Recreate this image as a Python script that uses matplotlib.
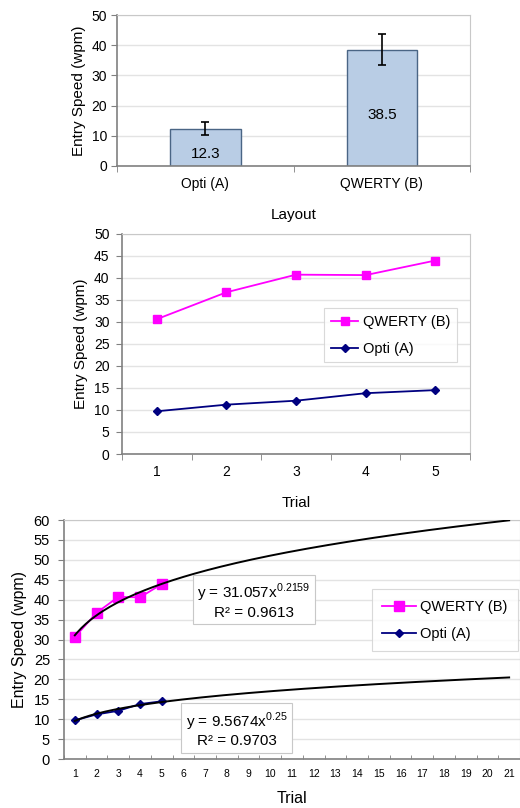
import numpy as np
import matplotlib
matplotlib.use('agg')
import matplotlib.pyplot as plt
from matplotlib.ticker import FixedLocator

plt.rcParams['font.family'] = ['Liberation Sans', 'DejaVu Sans']
plt.rcParams['mathtext.fontset'] = 'custom'
plt.rcParams['mathtext.rm'] = 'Liberation Sans'

# data
layouts = ["Opti (A)", "QWERTY (B)"]
mean_speed = [12.3, 38.5]
sd_speed = [2.1, 5.2]

trials = [1, 2, 3, 4, 5]
qwerty = [30.6, 36.7, 40.7, 40.6, 43.9]
opti = [9.7, 11.2, 12.1, 13.8, 14.5]

trials_long = list(range(1, 22))
qwerty_fit = (31.057, 0.2159, 0.9613)
opti_fit = (9.5674, 0.25, 0.9703)

PINK = '#ff00ff'
NAVY = '#000080'
GRID = '#e3e3e3'


def style_axes(ax, ypad=3):
    ax.set_axisbelow(True)
    ax.yaxis.grid(True, color=GRID, linewidth=1)
    for s in ('top', 'right'):
        ax.spines[s].set_color('#c8c8c8')
    for s in ('left', 'bottom'):
        ax.spines[s].set_color('#808080')
        ax.spines[s].set_linewidth(1.2)
    ax.tick_params(axis='y', length=4, color='#808080', labelsize=10, pad=ypad)


fig = plt.figure(figsize=(5.2, 8.08), dpi=100)

# --- bar chart
ax1 = fig.add_axes([0.225, 0.7946, 0.679, 0.1868])
x = np.arange(len(layouts))
ax1.bar(x, mean_speed, width=0.4, color='#b9cde5', edgecolor='#4a6585', linewidth=1,
        yerr=sd_speed, capsize=3, error_kw=dict(ecolor='black', elinewidth=1.2, capthick=1.2))
for xi, v in zip(x, mean_speed):
    ax1.annotate(f"{v}", (xi, v / 2), xytext=(0, -5), textcoords='offset points',
                 ha='center', va='center', fontsize=11)
ax1.set_xlim(-0.5, 1.5)
ax1.set_ylim(0, 50)
ax1.set_yticks(range(0, 51, 10))
ax1.set_xticks(x)
ax1.set_xticklabels(layouts)
ax1.xaxis.set_minor_locator(FixedLocator([-0.5, 0.5, 1.5]))
ax1.tick_params(axis='x', which='major', length=0, labelsize=10, pad=8)
ax1.tick_params(axis='x', which='minor', length=4, color='#808080')
style_axes(ax1)
ax1.set_ylabel("Entry Speed (wpm)", fontsize=11, labelpad=4)
ax1.set_xlabel("Layout", fontsize=11, labelpad=12)

# --- line chart
ax2 = fig.add_axes([0.2346, 0.4381, 0.6694, 0.2727])
ax2.plot(trials, qwerty, color=PINK, marker='s', markersize=5.5, linewidth=1.3, label="QWERTY (B)")
ax2.plot(trials, opti, color=NAVY, marker='D', markersize=4, linewidth=1.3, label="Opti (A)")
ax2.set_xlim(0.5, 5.5)
ax2.set_ylim(0, 50)
ax2.set_yticks(range(0, 51, 5))
ax2.set_xticks(trials)
ax2.xaxis.set_minor_locator(FixedLocator(np.arange(0.5, 5.6, 1)))
ax2.tick_params(axis='x', which='major', length=0, labelsize=10, pad=8)
ax2.tick_params(axis='x', which='minor', length=4, color='#808080')
style_axes(ax2, ypad=5)
ax2.set_ylabel("Entry Speed (wpm)", fontsize=11, labelpad=4)
ax2.set_xlabel("Trial", fontsize=11, labelpad=12)
leg = ax2.legend(loc='upper left', bbox_to_anchor=(0.56, 0.695), fontsize=10.5, frameon=True,
                 fancybox=False, edgecolor='#d0d0d0', handlelength=1.9, handletextpad=0.3,
                 borderpad=0.45, labelspacing=0.9)
leg.get_frame().set_linewidth(0.8)

# --- trend chart
ax3 = fig.add_axes([0.123, 0.0606, 0.877, 0.2958])
ax3.plot(trials, qwerty, color=PINK, marker='s', markersize=7, linewidth=1.3, label="QWERTY (B)")
ax3.plot(trials, opti, color=NAVY, marker='D', markersize=4.5, linewidth=1.3, label="Opti (A)")
xs = np.linspace(trials_long[0], trials_long[-1], 200)
for a, b, r2 in (qwerty_fit, opti_fit):
    ax3.plot(xs, a * xs ** b, color='black', linewidth=1.4, zorder=4)
ax3.set_xlim(0.5, 21.5)
ax3.set_ylim(0, 60)
ax3.set_yticks(range(0, 61, 5))
ax3.set_xticks(trials_long)
ax3.xaxis.set_minor_locator(FixedLocator(np.arange(0.5, 21.6, 1)))
ax3.tick_params(axis='x', which='major', length=0, labelsize=7.5, pad=7)
ax3.tick_params(axis='x', which='minor', direction='in', length=3, color='#808080')
style_axes(ax3, ypad=6)
ax3.tick_params(axis='y', labelsize=10.5)
ax3.set_ylabel("Entry Speed (wpm)", fontsize=11.5, labelpad=5)
ax3.set_xlabel("Trial", fontsize=11.5, labelpad=9)

box = dict(boxstyle='square,pad=0.3', facecolor='white', edgecolor='#c8c8c8', linewidth=0.8)
a, b, r2 = qwerty_fit
ax3.text(9.25, 39.7, f"y = {a}x$^{{\\mathregular{{{b}}}}}$\nR² = {r2}", ha='center', va='center',
         fontsize=11, bbox=box, linespacing=1.1, zorder=5)
a, b, r2 = opti_fit
ax3.text(8.45, 7.4, f"y = {a}x$^{{\\mathregular{{{b}}}}}$\nR² = {r2}", ha='center', va='center',
         fontsize=11, bbox=box, linespacing=1.1, zorder=5)
leg3 = ax3.legend(loc='upper left', bbox_to_anchor=(0.66, 0.74), fontsize=10.5, frameon=True,
                  fancybox=False, edgecolor='#d0d0d0', handlelength=2.3, handletextpad=0.3,
                  borderpad=0.7, labelspacing=0.9)
leg3.get_frame().set_linewidth(0.8)

fig.savefig("out.png", dpi=100)
